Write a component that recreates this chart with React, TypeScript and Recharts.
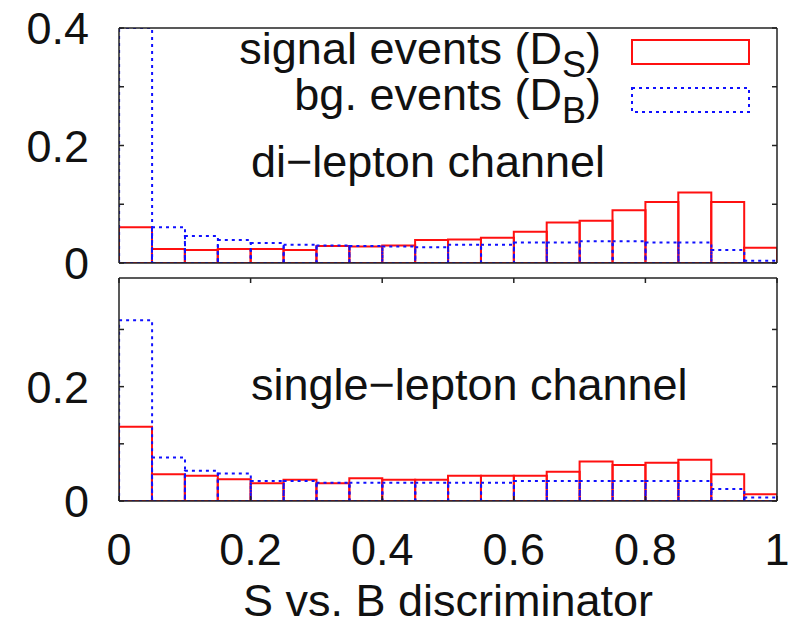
import React from 'react';
import { BarChart, Bar, XAxis, YAxis, Legend, Label } from 'recharts';

// centres of the 20 discriminator bins (width 0.05)
const binCenters = [
  0.025, 0.075, 0.125, 0.175, 0.225, 0.275, 0.325, 0.375, 0.425, 0.475,
  0.525, 0.575, 0.625, 0.675, 0.725, 0.775, 0.825, 0.875, 0.925, 0.975,
];

// di-lepton channel
const diSignal = [
  0.061, 0.024, 0.022, 0.024, 0.024, 0.022, 0.029, 0.028, 0.030, 0.039,
  0.040, 0.043, 0.053, 0.069, 0.072, 0.090, 0.104, 0.120, 0.104, 0.026,
];
const diBackground = [
  0.400, 0.061, 0.046, 0.039, 0.034, 0.031, 0.030, 0.029, 0.028, 0.027,
  0.031, 0.031, 0.035, 0.035, 0.037, 0.037, 0.035, 0.035, 0.022, 0.004,
];

// single-lepton channel
const singleSignal = [
  0.130, 0.047, 0.044, 0.038, 0.031, 0.037, 0.031, 0.040, 0.037, 0.037,
  0.044, 0.044, 0.044, 0.051, 0.069, 0.063, 0.067, 0.072, 0.047, 0.012,
];
const singleBackground = [
  0.316, 0.076, 0.053, 0.048, 0.035, 0.035, 0.032, 0.032, 0.032, 0.032,
  0.032, 0.032, 0.035, 0.035, 0.035, 0.035, 0.035, 0.035, 0.021, 0.006,
];

const xTicks = [0, 0.2, 0.4, 0.6, 0.8, 1];
const yTicks = [0, 0.1, 0.2, 0.3, 0.4];
const diYLabels = [0, 0.2, 0.4];
const singleYLabels = [0, 0.2];

const seriesNames = ['signal events (DS)', 'bg. events (DB)'];
const legendMain = ['signal events (D', 'bg. events (D'];
const legendSub = ['S', 'B'];
const channelNames = ['di\u2212lepton channel', 'single\u2212lepton channel'];
const xTitle = 'S vs. B discriminator';

const RED = '#ff1010';
const BLUE = '#1010ff';
const AXIS = '#222';
const TEXT = '#111';
const FONT = '"Liberation Sans", Arial, Helvetica, sans-serif';
const FS = 45;
const TICK_LEN = 5;
const DOTS = '3 4';

const toRows = (sig: number[], bg: number[]) =>
  binCenters.map((x, i) => ({ x, sig: sig[i], bg: bg[i] }));

// inward tick on the left border, with an optional label
const LeftTick = ({ x, y, payload, labels }: any) => (
  <g>
    <line x1={x} x2={x + TICK_LEN} y1={y} y2={y} stroke={AXIS} strokeWidth={1.5} />
    {labels.includes(payload.value) && (
      <text x={x - 30} y={y} dy="0.36em" textAnchor="end" fontSize={FS} fill={TEXT}>
        {payload.value}
      </text>
    )}
  </g>
);

const RightTick = ({ x, y }: any) => (
  <line x1={x} x2={x - TICK_LEN} y1={y} y2={y} stroke={AXIS} strokeWidth={1.5} />
);

const TopTick = ({ x, y }: any) => (
  <line x1={x} x2={x} y1={y} y2={y + TICK_LEN} stroke={AXIS} strokeWidth={1.5} />
);

const BottomTick = ({ x, y, payload }: any) => (
  <g>
    <line x1={x} x2={x} y1={y} y2={y - TICK_LEN} stroke={AXIS} strokeWidth={1.5} />
    <text x={x} y={y + 64} textAnchor="middle" fontSize={FS} fill={TEXT}>
      {payload.value}
    </text>
  </g>
);

const renderLegend = (props: any) => {
  const items = props.payload || [];
  const baselines = [64, 110];
  const boxTops = [40, 88];
  return (
    <svg width={798} height={130} style={{ display: 'block' }}>
      {items.map((item: any, i: number) => {
        const idx = item.dataKey === 'bg' ? 1 : 0;
        const p = item.payload || {};
        return (
          <g key={i}>
            <text x={601} y={baselines[idx]} textAnchor="end" fontSize={FS} fill={TEXT}>
              {legendMain[idx]}
              <tspan dy={13} fontSize={36}>{legendSub[idx]}</tspan>
              <tspan dy={-13}>)</tspan>
            </text>
            <rect
              x={632}
              y={boxTops[idx]}
              width={117}
              height={24}
              fill="none"
              stroke={p.stroke || (idx ? BLUE : RED)}
              strokeWidth={2}
              strokeDasharray={p.strokeDasharray}
            />
          </g>
        );
      })}
    </svg>
  );
};

interface PanelProps {
  sig: number[];
  bg: number[];
  height: number;
  margin: { top: number; right: number; bottom: number; left: number };
  yMax: number;
  yLabels: number[];
  bottomHeight: number;
  withXLabels?: boolean;
  withLegend?: boolean;
}

function Panel({ sig, bg, height, margin, yMax, yLabels, bottomHeight, withXLabels, withLegend }: PanelProps) {
  const rows = toRows(sig, bg);
  const shownY = yTicks.filter((t) => t <= yMax);
  return (
    <BarChart
      width={798}
      height={height}
      data={rows}
      margin={margin}
      barCategoryGap={0}
      barGap="-100%"
    >
      <XAxis
        xAxisId="x"
        orientation="bottom"
        dataKey="x"
        type="number"
        domain={[0, 1]}
        allowDataOverflow
        height={bottomHeight}
        ticks={xTicks}
        interval={0}
        tickSize={0}
        tickMargin={0}
        tick={withXLabels ? (p: any) => <BottomTick {...p} /> : false}
        axisLine={{ stroke: AXIS, strokeWidth: 1.5 }}
      >
        {withXLabels && (
          <Label value={xTitle} position="insideBottom" offset={11} fontSize={FS} fill={TEXT} />
        )}
      </XAxis>
      <XAxis
        xAxisId="top"
        orientation="top"
        dataKey="x"
        type="number"
        domain={[0, 1]}
        allowDataOverflow
        height={1}
        ticks={xTicks}
        interval={0}
        tickSize={0}
        tickMargin={0}
        tick={withXLabels ? (p: any) => <TopTick {...p} /> : false}
        axisLine={{ stroke: AXIS, strokeWidth: 1.5 }}
      />
      <YAxis
        yAxisId="l"
        type="number"
        domain={[0, yMax]}
        allowDataOverflow
        width={119}
        ticks={shownY}
        interval={0}
        tickSize={0}
        tickMargin={0}
        tick={(p: any) => <LeftTick {...p} labels={yLabels} />}
        axisLine={{ stroke: AXIS, strokeWidth: 1.5 }}
      />
      <YAxis
        yAxisId="r"
        orientation="right"
        type="number"
        domain={[0, yMax]}
        allowDataOverflow
        width={1}
        ticks={shownY}
        interval={0}
        tickSize={0}
        tickMargin={0}
        tick={(p: any) => <RightTick {...p} />}
        axisLine={{ stroke: AXIS, strokeWidth: 1.5 }}
      />
      {withLegend && (
        <Legend
          layout="horizontal"
          verticalAlign="middle"
          align="center"
          wrapperStyle={{ top: 0, left: 0, width: 798, height: 130 }}
          content={renderLegend}
        />
      )}
      <Bar
        dataKey="sig"
        name={seriesNames[0]}
        xAxisId="x"
        yAxisId="l"
        fill="none"
        stroke={RED}
        strokeWidth={2}
        isAnimationActive={false}
      />
      <Bar
        dataKey="bg"
        name={seriesNames[1]}
        xAxisId="x"
        yAxisId="l"
        fill="none"
        stroke={BLUE}
        strokeWidth={2}
        strokeDasharray={DOTS}
        isAnimationActive={false}
      />
    </BarChart>
  );
}

export default function App() {
  return (
    <div
      style={{
        position: 'absolute',
        left: 0,
        top: 0,
        width: 798,
        height: 627,
        background: '#fff',
        fontFamily: FONT,
        overflow: 'hidden',
      }}
    >
      <div style={{ position: 'absolute', left: 0, top: 270 }}>
        <Panel
          sig={singleSignal}
          bg={singleBackground}
          height={357}
          margin={{ top: 7, right: 20, bottom: 0, left: 0 }}
          yMax={0.39}
          yLabels={singleYLabels}
          bottomHeight={126}
          withXLabels
        />
      </div>
      <div style={{ position: 'absolute', left: 0, top: 0 }}>
        <Panel
          sig={diSignal}
          bg={diBackground}
          height={290}
          margin={{ top: 27, right: 20, bottom: 26, left: 0 }}
          yMax={0.4}
          yLabels={diYLabels}
          bottomHeight={1}
          withLegend
        />
      </div>
      <svg
        width={798}
        height={627}
        style={{ position: 'absolute', left: 0, top: 0, pointerEvents: 'none' }}
      >
        <text x={251} y={177} fontSize={FS} fill={TEXT}>{channelNames[0]}</text>
        <text x={251} y={400} fontSize={FS} fill={TEXT}>{channelNames[1]}</text>
      </svg>
    </div>
  );
}
